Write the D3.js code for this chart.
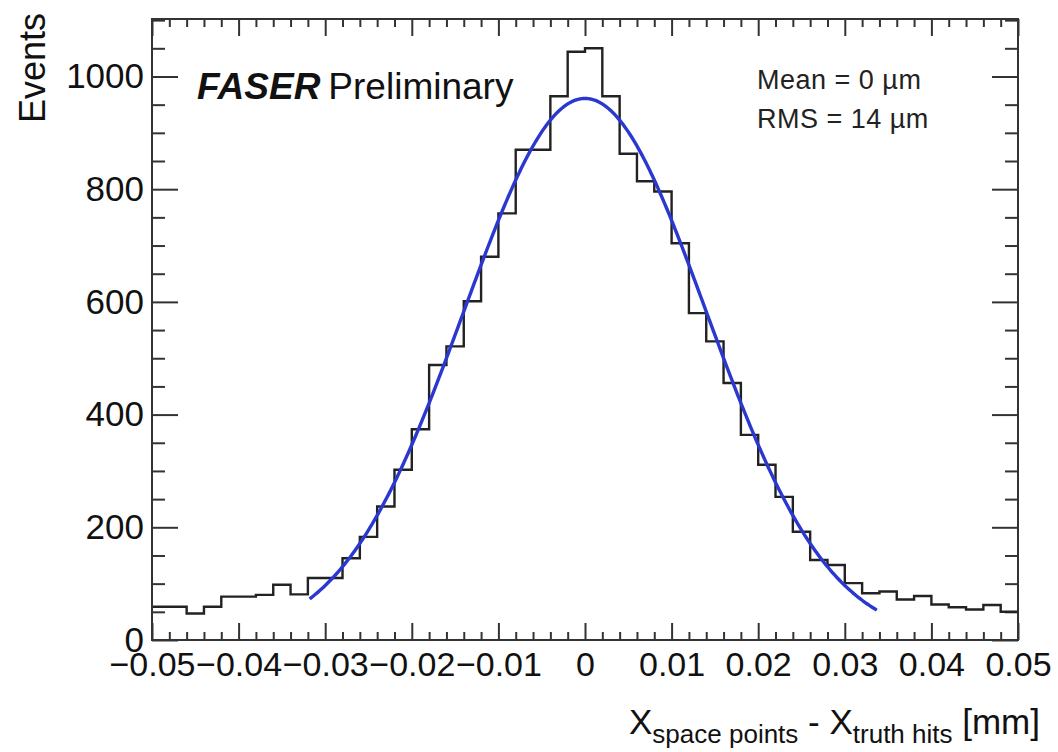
<!DOCTYPE html>
<html>
<head>
<meta charset="utf-8">
<script src="https://cdn.jsdelivr.net/npm/d3@7"></script>
<style>
  body { margin: 0; background: #fff; }
  svg { display: block; font-family: "Liberation Sans", Arial, sans-serif; }
</style>
</head>
<body>
<div class="chart"></div>
<script>
// histogram binning (mm)
var binLow = -0.05, binWidth = 0.002;
// bin contents
var counts = [59, 59, 47, 59, 77, 77, 80, 98, 81, 110,
              110, 145, 183, 237, 302, 374, 488, 521, 601, 680,
              757, 870, 870, 965, 1044, 1050, 965, 863, 814, 796,
              704, 580, 530, 456, 364, 311, 254, 192, 142, 133,
              101, 83, 86, 72, 78, 63, 58, 54, 62, 50];

// gaussian fit drawn on top
var fitNorm = 961, fitMean = 0, fitSigma = 0.014;
var fitRange = [-0.0318, 0.0337];

var xMajor = [-0.05, -0.04, -0.03, -0.02, -0.01, 0, 0.01, 0.02, 0.03, 0.04, 0.05];
var xTickLabels = ["\u22120.05", "\u22120.04", "\u22120.03", "\u22120.02", "\u22120.01",
                   "0", "0.01", "0.02", "0.03", "0.04", "0.05"];
var yMajor = [0, 200, 400, 600, 800, 1000];
var yTickLabels = ["0", "200", "400", "600", "800", "1000"];
var yMax = 1102;

var W = 1058, H = 752;
var frame = {left: 152, right: 1018, top: 19, bottom: 640};

var svg = d3.select(".chart").append("svg")
    .attr("width", W)
    .attr("height", H);
svg.append("rect").attr("width", W).attr("height", H).attr("fill", "#fff");

var x = d3.scaleLinear().domain([-0.05, 0.05]).range([frame.left, frame.right]);
var y = d3.scaleLinear().domain([0, yMax]).range([frame.bottom, frame.top]);

// minor tick positions
var xMinor = d3.range(-0.05, 0.0501, 0.002).filter(function(v) {
    return Math.abs(v * 100 - Math.round(v * 100)) > 1e-6;
});
var yMinor = d3.range(0, yMax, 50).filter(function(v) { return v % 200 != 0; });

function styleAxis(g) {
    g.select(".domain").remove();
    g.selectAll(".tick line").attr("stroke", "#333").attr("stroke-width", 2);
    g.selectAll(".tick text")
        .attr("fill", "#111")
        .attr("font-family", "'Liberation Sans', Arial, sans-serif");
}

// bottom axis
svg.append("g")
    .attr("transform", "translate(0," + frame.bottom + ")")
    .call(d3.axisBottom(x).tickValues(xMinor).tickSize(-8).tickFormat(""))
    .call(styleAxis);
svg.append("g")
    .attr("transform", "translate(0," + frame.bottom + ")")
    .call(d3.axisBottom(x).tickValues(xMajor).tickSize(-17).tickPadding(12)
        .tickFormat(function(d, i) { return xTickLabels[i]; }))
    .call(styleAxis)
    .selectAll(".tick text").attr("font-size", 34);

// top axis
svg.append("g")
    .attr("transform", "translate(0," + frame.top + ")")
    .call(d3.axisTop(x).tickValues(xMinor).tickSize(-8).tickFormat(""))
    .call(styleAxis);
svg.append("g")
    .attr("transform", "translate(0," + frame.top + ")")
    .call(d3.axisTop(x).tickValues(xMajor).tickSize(-17).tickFormat(""))
    .call(styleAxis);

// left axis
svg.append("g")
    .attr("transform", "translate(" + frame.left + ",0)")
    .call(d3.axisLeft(y).tickValues(yMinor).tickSize(-13).tickFormat(""))
    .call(styleAxis);
svg.append("g")
    .attr("transform", "translate(" + frame.left + ",0)")
    .call(d3.axisLeft(y).tickValues(yMajor).tickSize(-26).tickPadding(8)
        .tickFormat(function(d, i) { return yTickLabels[i]; }))
    .call(styleAxis)
    .selectAll(".tick text").attr("font-size", 35);

// right axis
svg.append("g")
    .attr("transform", "translate(" + frame.right + ",0)")
    .call(d3.axisRight(y).tickValues(yMinor).tickSize(-13).tickFormat(""))
    .call(styleAxis);
svg.append("g")
    .attr("transform", "translate(" + frame.right + ",0)")
    .call(d3.axisRight(y).tickValues(yMajor).tickSize(-26).tickFormat(""))
    .call(styleAxis);

// histogram outline
var steps = counts.map(function(c, i) { return {x: binLow + i * binWidth, v: c}; });
steps.push({x: binLow + counts.length * binWidth, v: counts[counts.length - 1]});

var histLine = d3.line()
    .x(function(d) { return x(d.x); })
    .y(function(d) { return y(d.v); })
    .curve(d3.curveStepAfter);

svg.append("path")
    .datum(steps)
    .attr("d", histLine)
    .attr("fill", "none")
    .attr("stroke", "#222")
    .attr("stroke-width", 2.4);

// fit curve
var fitPts = d3.range(fitRange[0], fitRange[1], 0.0002).concat([fitRange[1]]).map(function(v) {
    var z = (v - fitMean) / fitSigma;
    return {x: v, v: fitNorm * Math.exp(-0.5 * z * z)};
});
svg.append("path")
    .datum(fitPts)
    .attr("d", d3.line().x(function(d) { return x(d.x); }).y(function(d) { return y(d.v); }))
    .attr("fill", "none")
    .attr("stroke", "#2a38d0")
    .attr("stroke-width", 3.4);

// frame
svg.append("rect")
    .attr("x", frame.left).attr("y", frame.top)
    .attr("width", frame.right - frame.left)
    .attr("height", frame.bottom - frame.top)
    .attr("fill", "none")
    .attr("stroke", "#333")
    .attr("stroke-width", 2);

// FASER Preliminary
var lab = svg.append("text").attr("x", 197).attr("y", 99)
    .attr("font-size", 37).attr("fill", "#111");
lab.append("tspan").attr("font-weight", "bold").attr("font-style", "italic").text("FASER");
lab.append("tspan").attr("dx", 8).text("Preliminary");

// stats
svg.append("text").attr("x", 757).attr("y", 89).attr("font-size", 27).attr("fill", "#222")
    .attr("letter-spacing", 0.5)
    .text("Mean = 0 \u00b5m");
svg.append("text").attr("x", 757).attr("y", 128).attr("font-size", 27).attr("fill", "#222")
    .attr("letter-spacing", 0.5)
    .text("RMS = 14 \u00b5m");

// y title
svg.append("text")
    .attr("transform", "translate(45,13) rotate(-90)")
    .attr("text-anchor", "end")
    .attr("font-size", 36)
    .attr("fill", "#111")
    .text("Events");

// x title
var xt = svg.append("text").attr("x", 1040).attr("y", 734)
    .attr("text-anchor", "end").attr("font-size", 35).attr("fill", "#111");
xt.append("tspan").text("X");
xt.append("tspan").attr("font-size", 26).attr("dy", 9).text("space points");
xt.append("tspan").attr("dy", -9).text(" - X");
xt.append("tspan").attr("font-size", 26).attr("dy", 9).text("truth hits");
xt.append("tspan").attr("dy", -9).text(" [mm]");
</script>
</body>
</html>
